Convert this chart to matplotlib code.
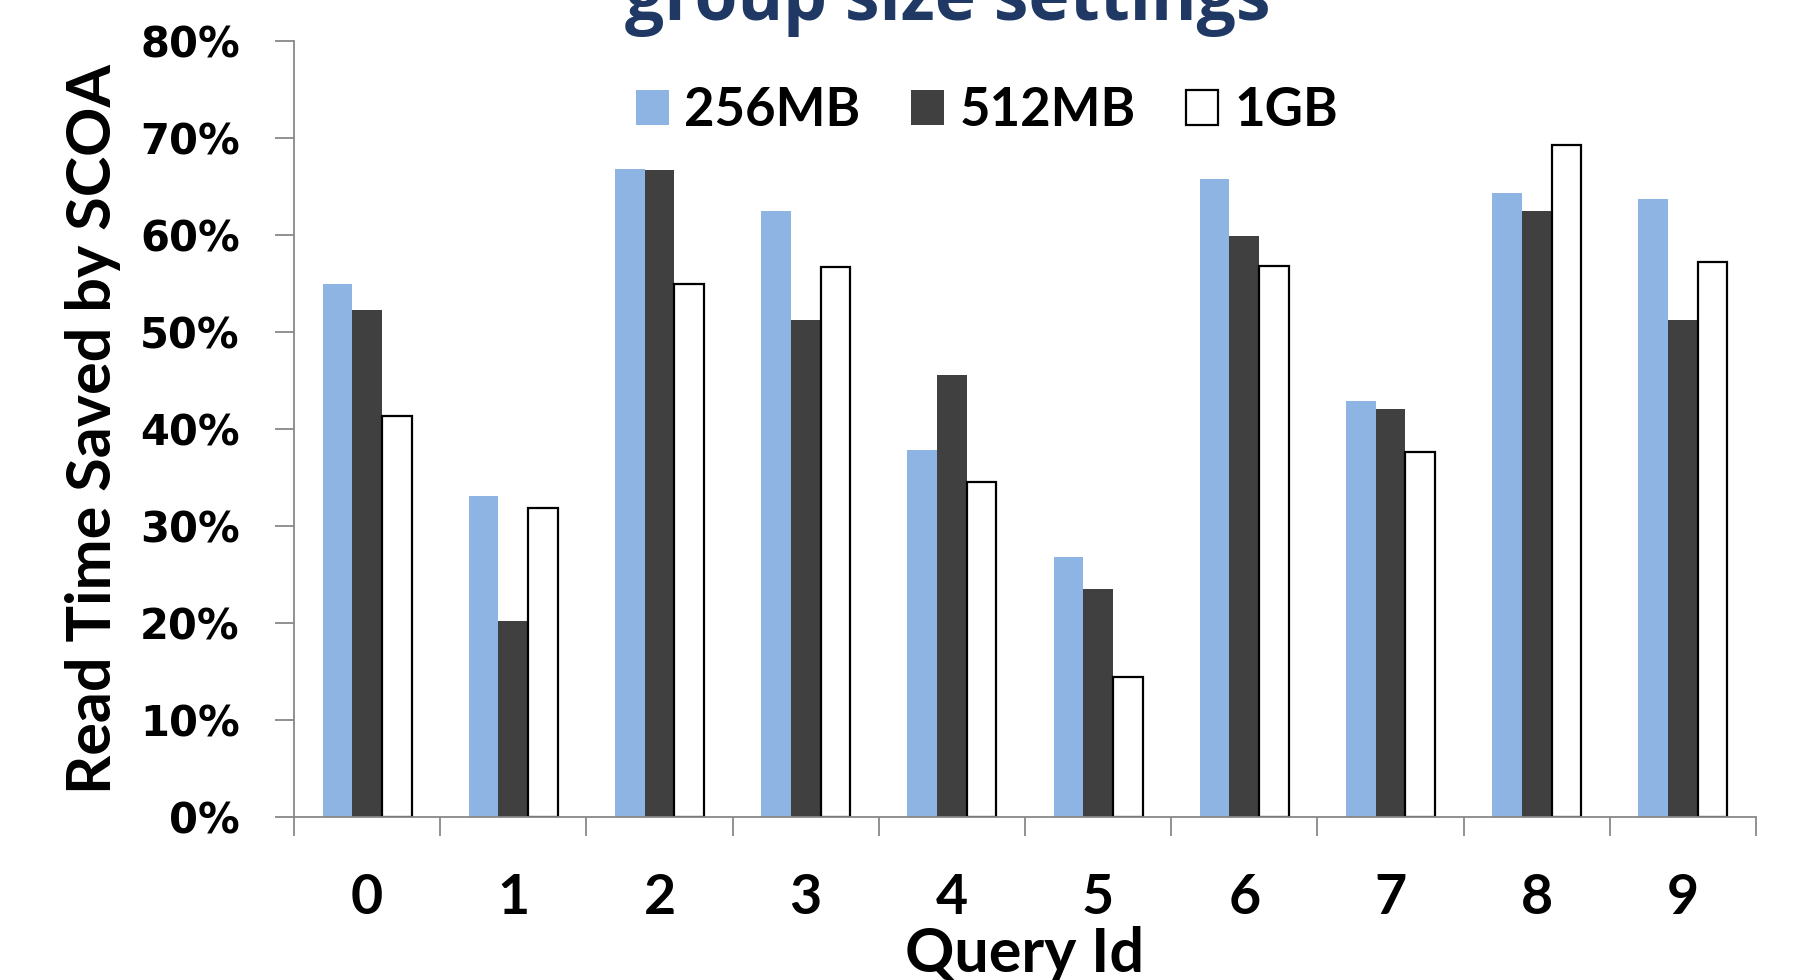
import numpy as np
import matplotlib
matplotlib.use("Agg")
import matplotlib.pyplot as plt
from matplotlib.ticker import FixedLocator, PercentFormatter

# data
queries = ["0", "1", "2", "3", "4", "5", "6", "7", "8", "9"]
mb256 = [55.0, 33.1, 66.8, 62.5, 37.9, 26.8, 65.8, 42.9, 64.4, 63.7]
mb512 = [52.3, 20.2, 66.7, 51.3, 45.6, 23.5, 59.9, 42.1, 62.5, 51.3]
gb1 = [41.4, 31.9, 55.0, 56.7, 34.6, 14.4, 56.8, 37.7, 69.3, 57.3]
series_names = ["256MB", "512MB", "1GB"]

narrow = ["Lato", "DejaVu Sans"]

fig = plt.figure(figsize=(18.09, 9.8), dpi=100)
ax = fig.add_axes([0.1625, 0.1663, 0.8082, 0.7914])

x = np.arange(len(queries))
w = 0.203
ax.bar(x - w, mb256, w, color="#8EB4E3", label=series_names[0])
ax.bar(x, mb512, w, color="#404040", label=series_names[1])
ax.bar(x + w, gb1, w, color="white", edgecolor="black", linewidth=1.6,
       label=series_names[2])

ax.set_xlim(-0.5, len(queries) - 0.5)
ax.set_ylim(0, 80)

# y axis
ax.set_yticks(np.arange(0, 81, 10))
ax.yaxis.set_major_formatter(PercentFormatter(decimals=0))
ax.tick_params(axis="y", length=14, width=1.3, color="#888888", pad=25,
               labelsize=30)
for t in ax.get_yticklabels():
    t.set_fontweight("bold")
    t.set_family("DejaVu Sans")

# x axis: labels at centers, ticks at group boundaries
ax.set_xticks(x)
ax.set_xticklabels(queries)
ax.xaxis.set_minor_locator(FixedLocator(np.arange(-0.5, len(queries), 1.0)))
ax.tick_params(axis="x", which="major", length=0, pad=40, labelsize=40)
ax.tick_params(axis="x", which="minor", length=14, width=1.3, color="#888888")
for t in ax.get_xticklabels():
    t.set_fontweight("bold")
    t.set_family(narrow)

for s in ["top", "right"]:
    ax.spines[s].set_visible(False)
for s in ["left", "bottom"]:
    ax.spines[s].set_color("#888888")
    ax.spines[s].set_linewidth(1.3)

ax.set_xlabel("Query Id", fontsize=44, fontweight="bold", family=narrow)
ax.xaxis.set_label_coords(0.5, -0.14)
ax.set_ylabel("Read Time Saved by SCOA", fontsize=44, fontweight="bold",
              family=narrow)
ax.yaxis.set_label_coords(-0.118, 0.5)

leg = ax.legend(loc="center", bbox_to_anchor=(0.474, 0.911), ncol=3,
                frameon=False, handlelength=0.62, handleheight=0.62,
                handletextpad=0.3, columnspacing=0.95,
                prop={"family": narrow, "weight": "bold", "size": 38})

fig.text(0.524, 1 - 20 / 980, "group size settings", ha="center",
         va="baseline", fontsize=50, fontweight="bold", color="#1F3864",
         family=["Open Sans", "DejaVu Sans"])

fig.savefig("out.png", dpi=100)
